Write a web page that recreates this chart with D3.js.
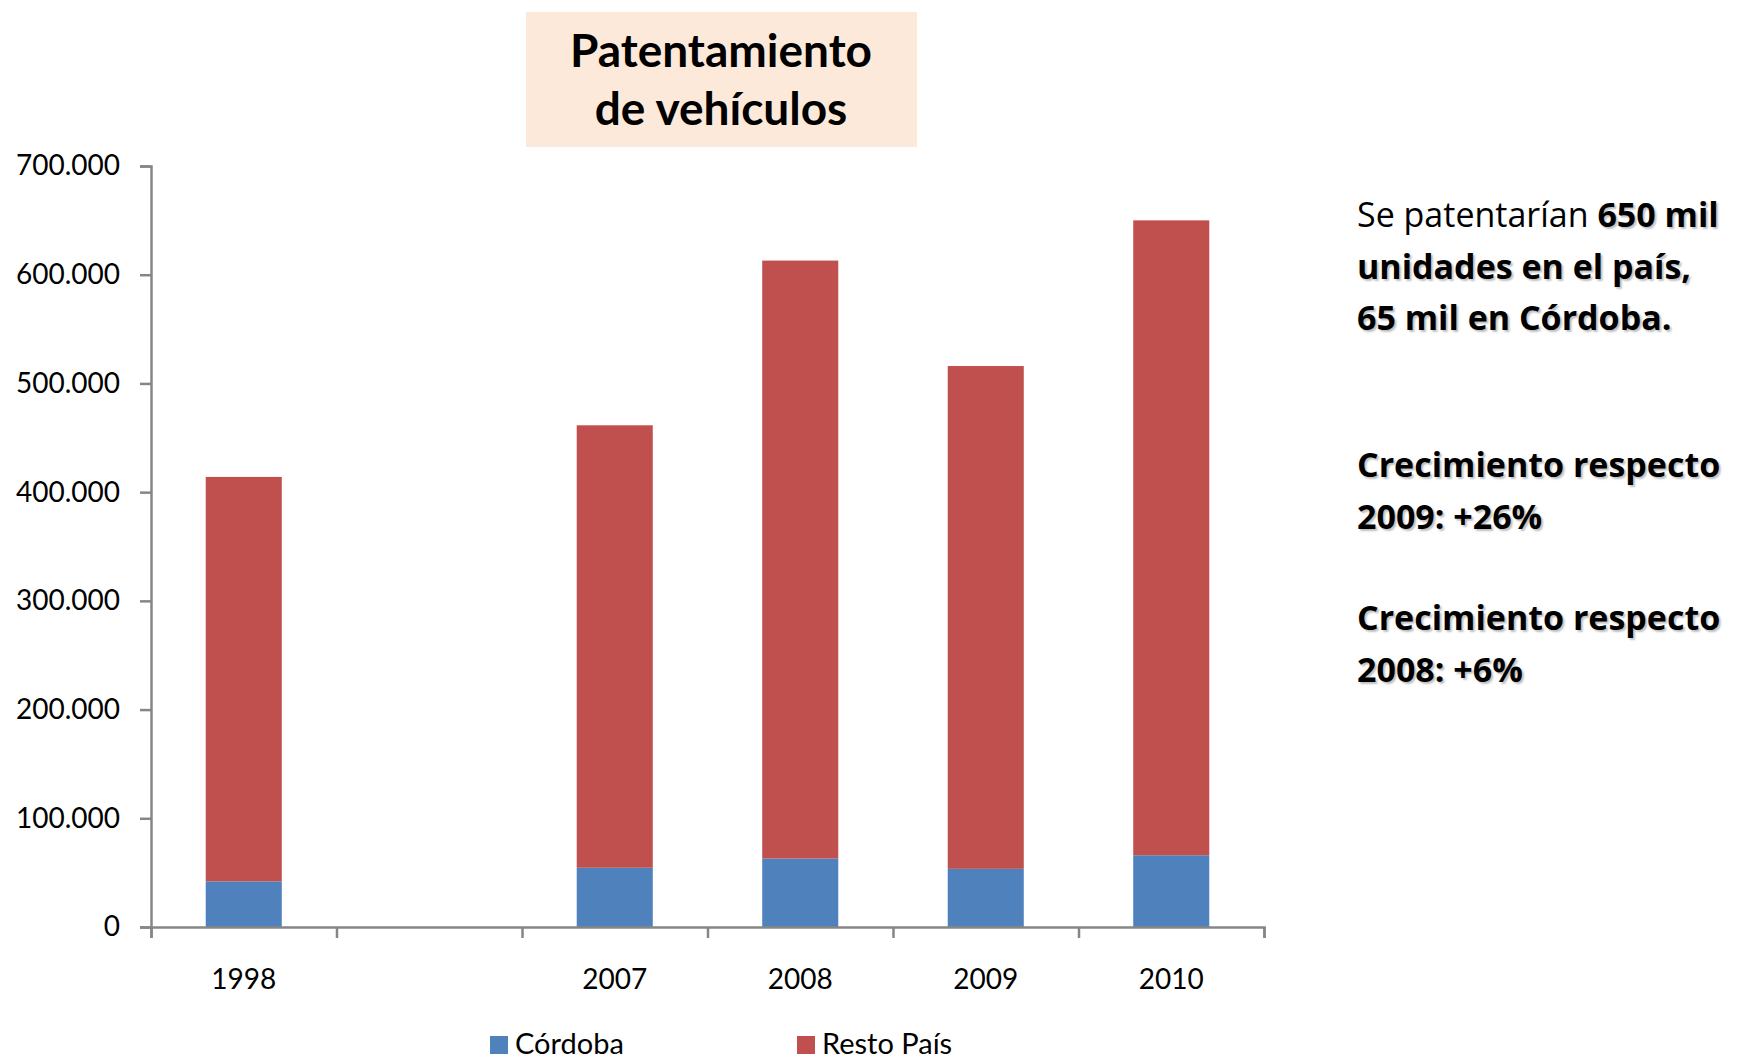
<!DOCTYPE html>
<html>
<head>
<meta charset="utf-8">
<script src="https://cdn.jsdelivr.net/npm/d3@7"></script>
<style>
  body { margin: 0; background: #fff; }
  svg { font-family: Lato, "Open Sans", sans-serif; }
  .axis path, .axis line { stroke: #868686; stroke-width: 2.5; }
  .axis text { font-family: Lato, sans-serif; font-size: 28px; fill: #000; }
  .note { font-family: "Open Sans", sans-serif; font-size: 34px; fill: #000; }
  .note .b { font-weight: bold; text-shadow: 2px 2px 2px rgba(0,0,0,0.25); }
</style>
</head>
<body>
<div id="chart"></div>
<script>
var years = ["1998", "", "2007", "2008", "2009", "2010"]
var cordoba = [42000, null, 54500, 63000, 53500, 66000]
var restoPais = [372000, null, 407000, 550000, 462500, 584000]
var yTicks = [0, 100000, 200000, 300000, 400000, 500000, 600000, 700000]
var seriesNames = ["Córdoba", "Resto País"]
var seriesColors = ["#4F81BD", "#C0504D"]

var W = 1742, H = 1063
var margin = {top: 166, left: 151},
    width = 1264 - margin.left,
    height = 927 - margin.top

var es = d3.formatLocale({decimal: ",", thousands: ".", grouping: [3], currency: ["$", ""]})

var svg = d3.select("#chart").append("svg")
    .attr("width", W)
    .attr("height", H)

var g = svg.append("g")
    .attr("transform", "translate(" + margin.left + "," + margin.top + ")")

var x = d3.scaleBand().domain(d3.range(years.length)).range([0, width])
var xb = d3.scaleLinear().domain([0, years.length]).range([0, width])
var y = d3.scaleLinear().domain([0, 700000]).range([height, 0])

var rows = years.map(function(d, i) {
  return {i: i, year: d, cordoba: cordoba[i] || 0, resto: restoPais[i] || 0}
})
var stack = d3.stack().keys(["cordoba", "resto"])(rows)

var barW = x.bandwidth() * 0.41

g.selectAll(".serie")
  .data(stack)
  .enter().append("g")
    .attr("fill", function(d, i) { return seriesColors[i] })
  .selectAll("rect")
  .data(function(d) { return d.filter(function(p) { return p[1] > p[0] }) })
  .enter().append("rect")
    .attr("x", function(d) { return x(d.data.i) + (x.bandwidth() - barW) / 2 })
    .attr("width", barW)
    .attr("y", function(d) { return y(d[1]) })
    .attr("height", function(d) { return y(d[0]) - y(d[1]) })

// y axis
g.append("g")
  .attr("class", "axis")
  .call(d3.axisLeft(y).tickValues(yTicks).tickSize(11).tickPadding(20).tickFormat(es.format(",")))

// x axis: ticks on category boundaries, labels centred
g.append("g")
  .attr("class", "axis")
  .attr("transform", "translate(0," + height + ")")
  .call(d3.axisBottom(xb).ticks(years.length).tickSize(11).tickSizeOuter(11).tickFormat(""))

g.append("g")
  .attr("class", "axis")
  .selectAll("text")
  .data(years)
  .enter().append("text")
    .attr("x", function(d, i) { return x(i) + x.bandwidth() / 2 })
    .attr("y", height + 62)
    .attr("text-anchor", "middle")
    .text(function(d) { return d })

// legend
var legX = [490, 797]
var leg = svg.append("g").selectAll("g")
  .data(seriesNames)
  .enter().append("g")
    .attr("transform", function(d, i) { return "translate(" + legX[i] + ",1036)" })
leg.append("rect")
  .attr("width", 18).attr("height", 18)
  .attr("fill", function(d, i) { return seriesColors[i] })
leg.append("text")
  .attr("x", 25).attr("y", 18)
  .style("font-size", "29px")
  .text(function(d) { return d })

// title box
svg.append("rect")
  .attr("x", 526).attr("y", 12)
  .attr("width", 391).attr("height", 135)
  .attr("fill", "#FDE9D9")
var title = svg.append("text")
  .attr("text-anchor", "middle")
  .style("font-size", "46px")
  .style("font-weight", "bold")
title.append("tspan").attr("x", 721).attr("y", 67).text("Patentamiento")
title.append("tspan").attr("x", 721).attr("y", 125).text("de vehículos")

// notes on the right
var n1 = svg.append("text").attr("class", "note")
var t = n1.append("tspan").attr("x", 1357).attr("y", 227)
t.append("tspan").text("Se patentarían ")
t.append("tspan").attr("class", "b").text("650 mil")
n1.append("tspan").attr("class", "b").attr("x", 1357).attr("y", 279).text("unidades en el país,")
n1.append("tspan").attr("class", "b").attr("x", 1357).attr("y", 330).text("65 mil en Córdoba.")

var notes = [["Crecimiento respecto", 477], ["2009: +26%", 529], ["Crecimiento respecto", 630], ["2008: +6%", 682]]
svg.selectAll(".note2")
  .data(notes)
  .enter().append("text")
    .attr("class", "note")
    .attr("x", 1357)
    .attr("y", function(d) { return d[1] })
  .append("tspan")
    .attr("class", "b")
    .text(function(d) { return d[0] })
</script>
</body>
</html>
